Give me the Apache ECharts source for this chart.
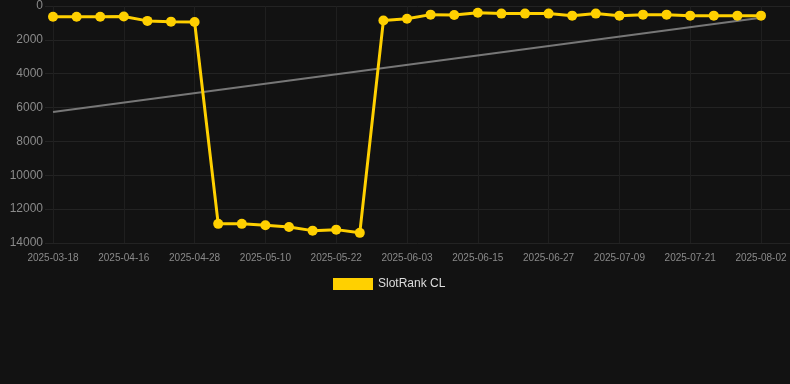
<!DOCTYPE html>
<html>
<head>
<meta charset="utf-8">
<script src="https://cdn.jsdelivr.net/npm/echarts@6/dist/echarts.min.js"></script>
<style>
    html, body { margin: 0; padding: 0; background: #121212; }
    #chart { width: 790px; height: 384px; }
</style>
</head>
<body>
<div id="chart"></div>
<script>
const dates = [
    '2025-03-18', '2025-04-08', '2025-04-12', '2025-04-16', '2025-04-20', '2025-04-24',
    '2025-04-28', '2025-05-02', '2025-05-06', '2025-05-10', '2025-05-14', '2025-05-18',
    '2025-05-22', '2025-05-26', '2025-05-30', '2025-06-03', '2025-06-07', '2025-06-11',
    '2025-06-15', '2025-06-19', '2025-06-23', '2025-06-27', '2025-07-01', '2025-07-05',
    '2025-07-09', '2025-07-13', '2025-07-17', '2025-07-21', '2025-07-25', '2025-07-29',
    '2025-08-02'
]
const rankCL = [
    630, 630, 630, 620, 880, 925, 945,
    12870, 12870, 12950, 13050, 13270, 13210, 13400,
    860, 750, 510, 530, 400, 450, 450, 450, 570, 450,
    570, 510, 510, 570, 570, 570, 570
]
// trend line end points (first and last category)
const trendStart = 6260
const trendEnd = 690

const gridLine = { lineStyle: { color: '#232323' } }

const chart = echarts.init(document.getElementById('chart'))
chart.setOption({
    backgroundColor: '#121212',
    animation: false,
    grid: [
        { left: 53, right: 29, top: 6, bottom: 141 },
        // wider grid only for the horizontal split lines
        { left: 45, right: 0, top: 6, bottom: 141 }
    ],
    legend: {
        data: ['SlotRank CL'],
        left: 328,
        top: 273,
        itemWidth: 40,
        itemHeight: 12,
        icon: 'rect',
        textStyle: { color: '#dddddd', fontSize: 12 }
    },
    xAxis: [
        {
            type: 'category',
            gridIndex: 0,
            data: dates,
            boundaryGap: false,
            axisLine: { show: false },
            axisTick: { show: false },
            axisLabel: { color: '#8a8a8a', fontSize: 10, interval: 2, margin: 10 },
            splitLine: { show: true, interval: 2, lineStyle: { color: '#1f1f1f' } }
        },
        { type: 'value', gridIndex: 1, show: false }
    ],
    yAxis: [
        {
            type: 'value',
            gridIndex: 0,
            inverse: true,
            min: 0,
            max: 14000,
            interval: 2000,
            axisLine: { show: false },
            axisTick: { show: false },
            axisLabel: { color: '#8a8a8a', fontSize: 12, margin: 10, formatter: v => String(v) },
            splitLine: { show: false }
        },
        {
            type: 'value',
            gridIndex: 1,
            inverse: true,
            min: 0,
            max: 14000,
            interval: 2000,
            axisLine: { show: false },
            axisTick: { show: false },
            axisLabel: { show: false },
            splitLine: gridLine
        }
    ],
    series: [
        {
            name: 'SlotRank CL',
            type: 'line',
            data: rankCL,
            symbol: 'circle',
            symbolSize: 10,
            itemStyle: { color: '#ffd000' },
            lineStyle: { color: '#ffd000', width: 3 },
            z: 3
        },
        {
            name: 'trend',
            type: 'line',
            data: [[0, trendStart], [dates.length - 1, trendEnd]],
            symbol: 'none',
            lineStyle: { color: '#777', width: 2 },
            z: 2
        }
    ]
})
</script>
</body>
</html>
